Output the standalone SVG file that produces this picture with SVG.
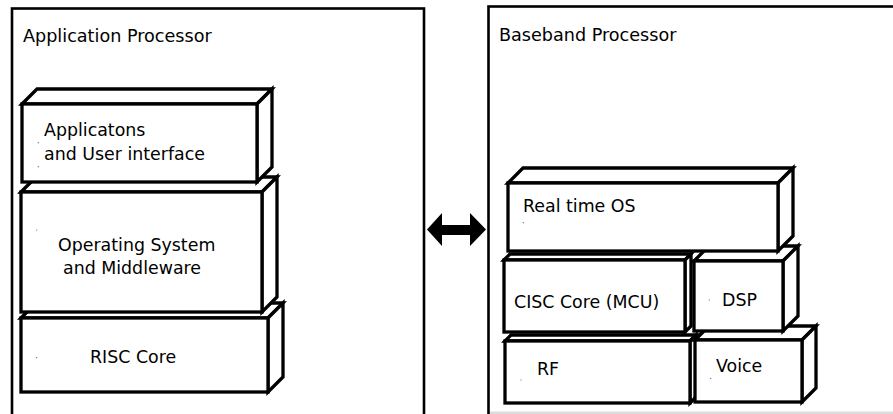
<svg xmlns="http://www.w3.org/2000/svg" width="893" height="414" viewBox="0 0 893 414">
<style>
.frame{fill:none;stroke:#000;stroke-width:2.6}
.box path,.box rect{fill:#fff;stroke:#000;stroke-width:3.3;stroke-linejoin:miter}
text{font-family:"DejaVu Sans","Noto Sans",sans-serif;fill:#000}
.title{font-size:17.6px}
.lbl{font-size:17.4px}
.speck{fill:#555}
</style>
<rect width="893" height="414" fill="#fff"/>
<rect x="490" y="411.5" width="403" height="2.5" fill="#ddd"/>
<g id="app-processor">
<rect class="frame" x="12" y="8.5" width="412" height="420"/>
<text class="title" x="23" y="42">Application Processor</text>
</g>
<g id="baseband-processor">
<rect class="frame" x="488.5" y="6.5" width="420" height="420"/>
<text class="title" x="499" y="41">Baseband Processor</text>
</g>
<g id="risc-core" class="box">
<path d="M21,318 L36,303 L283,303 L268,318 Z"/>
<path d="M268,318 L283,303 L283,377 L268,392 Z"/>
<rect x="21" y="318" width="247" height="74"/>
<circle class="speck" cx="36.7" cy="357.7" r="0.6"/>
<text class="lbl" x="90" y="363">RISC Core</text>
</g>
<g id="os-middleware" class="box">
<path d="M21,192 L36,177 L277,177 L262,192 Z"/>
<path d="M262,192 L277,177 L277,297 L262,312 Z"/>
<rect x="21" y="192" width="241" height="120"/>
<circle class="speck" cx="36.7" cy="230" r="0.6"/>
<text class="lbl" x="58" y="251">Operating System</text>
<text class="lbl" x="63" y="274">and Middleware</text>
</g>
<g id="apps-ui" class="box">
<path d="M22,104 L37,89 L272,89 L257,104 Z"/>
<path d="M257,104 L272,89 L272,167 L257,182 Z"/>
<rect x="22" y="104" width="235" height="78"/>
<circle class="speck" cx="38.3" cy="142.7" r="0.6"/>
<circle class="speck" cx="38.3" cy="166.7" r="0.6"/>
<text class="lbl" x="44" y="136">Applicatons</text>
<text class="lbl" x="44" y="160">and User interface</text>
</g>
<g id="rf" class="box">
<path d="M505,341 L511,335 L696,335 L690,341 Z"/>
<path d="M690,341 L696,335 L696,397 L690,403 Z"/>
<rect x="505" y="341" width="185" height="62"/>
<circle class="speck" cx="521" cy="380" r="0.6"/>
<text class="lbl" x="537" y="375">RF</text>
</g>
<g id="voice" class="box">
<path d="M695,340 L709,326 L816,326 L802,340 Z"/>
<path d="M802,340 L816,326 L816,388 L802,402 Z"/>
<rect x="695" y="340" width="107" height="62"/>
<circle class="speck" cx="710.7" cy="378.3" r="0.6"/>
<text class="lbl" x="716" y="372">Voice</text>
</g>
<g id="cisc-core" class="box">
<path d="M504,260 L510,254 L691,254 L685,260 Z"/>
<path d="M685,260 L691,254 L691,326 L685,332 Z"/>
<rect x="504" y="260" width="181" height="72"/>
<text class="lbl" x="514" y="308">CISC Core (MCU)</text>
</g>
<g id="dsp" class="box">
<path d="M694,261 L709,246 L798,246 L783,261 Z"/>
<path d="M783,261 L798,246 L798,316 L783,331 Z"/>
<rect x="694" y="261" width="89" height="70"/>
<circle class="speck" cx="709.3" cy="300" r="0.6"/>
<text class="lbl" x="722" y="306">DSP</text>
</g>
<g id="rtos" class="box">
<path d="M508,183 L523,168 L793,168 L778,183 Z"/>
<path d="M778,183 L793,168 L793,236 L778,251 Z"/>
<rect x="508" y="183" width="270" height="68"/>
<circle class="speck" cx="523.3" cy="222.7" r="0.6"/>
<text class="lbl" x="523" y="212">Real time OS</text>
</g>
<g id="connectors">
<polygon points="427,229.5 442,213 442,225 470,225 470,213 486,229.5 470,246 470,235 442,235 442,246" fill="#000"/>
</g>
</svg>
